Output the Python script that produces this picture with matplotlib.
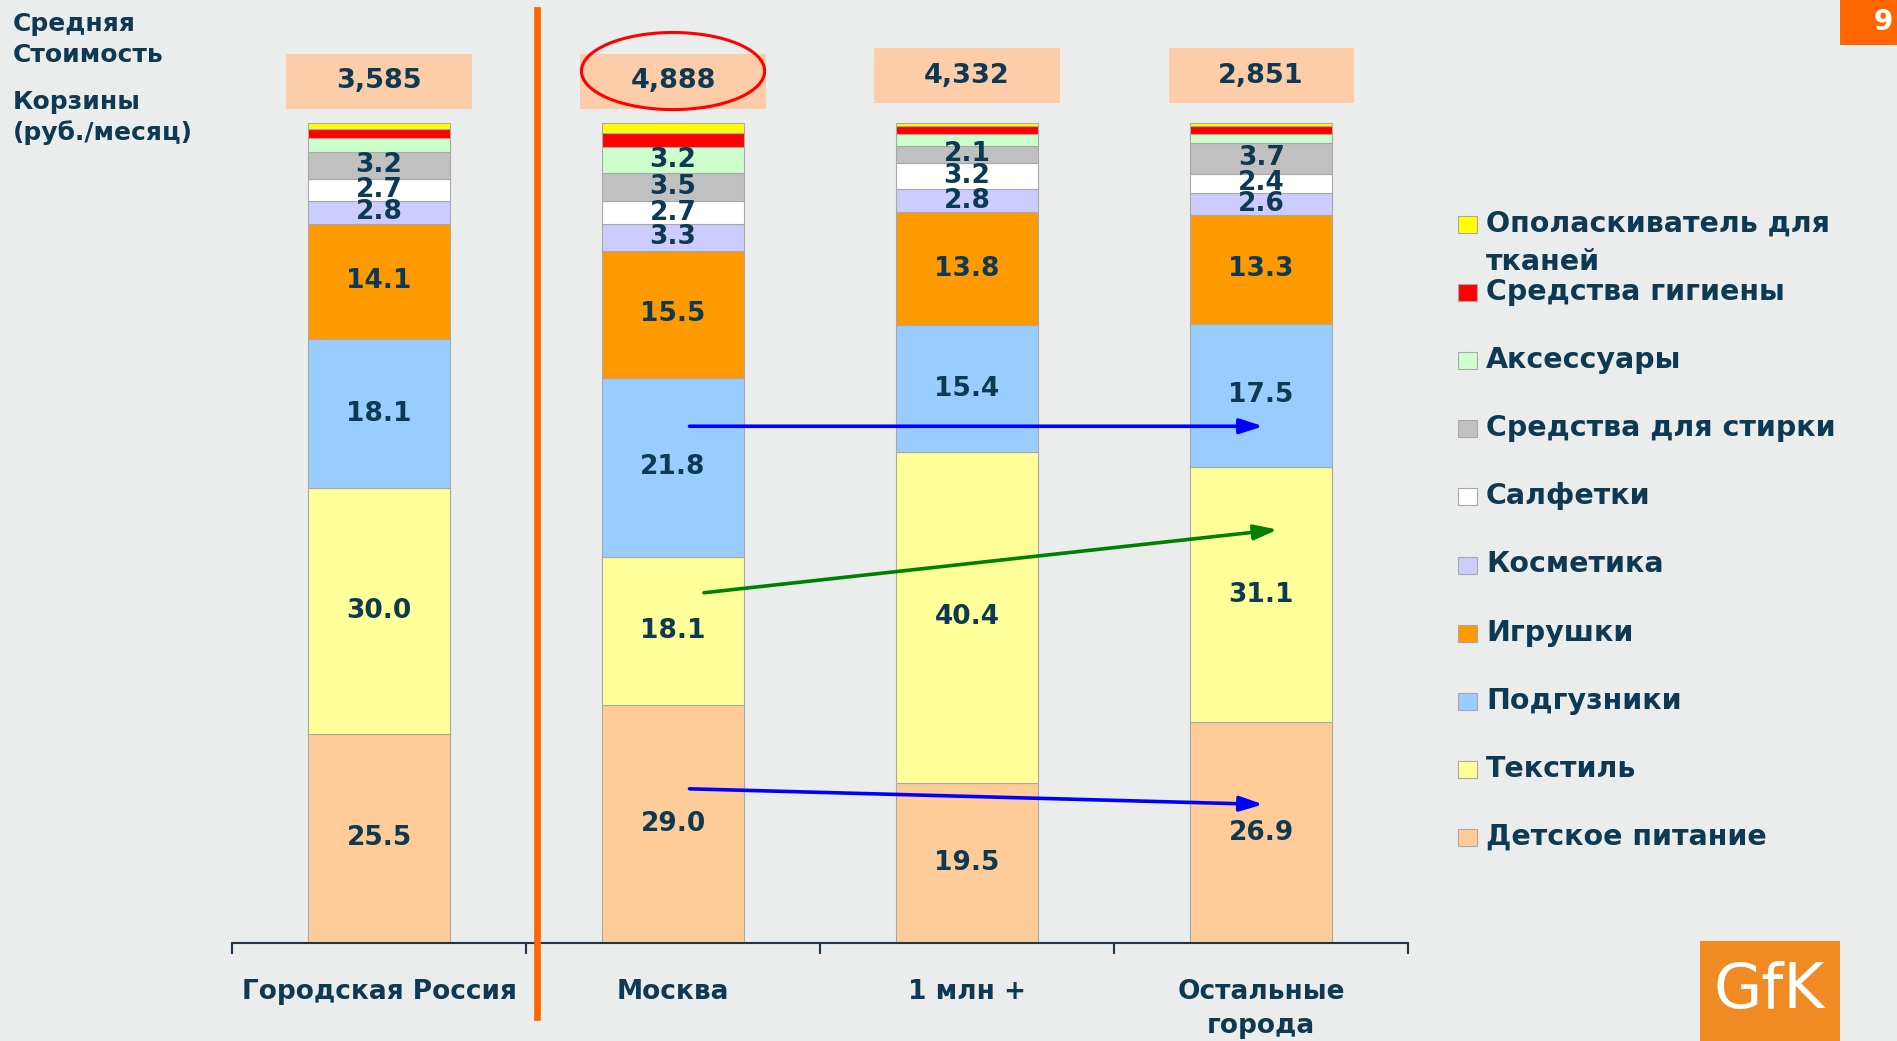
import matplotlib
matplotlib.use("Agg")
import matplotlib.pyplot as plt
from matplotlib.patches import Rectangle, Ellipse
from matplotlib.lines import Line2D

# --- data ---
categories = ['Городская Россия', 'Москва', '1 млн +', 'Остальные\nгорода']
avg_cost = ['3,585', '4,888', '4,332', '2,851']

series_names = ['Детское питание', 'Текстиль', 'Подгузники', 'Игрушки', 'Косметика',
                'Салфетки', 'Средства для стирки', 'Аксессуары', 'Средства гигиены',
                'Ополаскиватель для\nтканей']
baby_food = [25.5, 29.0, 19.5, 26.9]
textile = [30.0, 18.1, 40.4, 31.1]
diapers = [18.1, 21.8, 15.4, 17.5]
toys = [14.1, 15.5, 13.8, 13.3]
cosmetics = [2.8, 3.3, 2.8, 2.6]
napkins = [2.7, 2.7, 3.2, 2.4]
laundry = [3.2, 3.5, 2.1, 3.7]
accessories = [1.7, 3.2, 1.4, 1.1]
hygiene = [1.1, 1.6, 1.0, 1.0]
conditioner = [0.8, 1.3, 0.4, 0.4]
series = [baby_food, textile, diapers, toys, cosmetics, napkins, laundry,
          accessories, hygiene, conditioner]
colors = ['#FFCC99', '#FFFF99', '#99CCFF', '#FF9900', '#CCCCFF',
          '#FFFFFF', '#C0C0C0', '#CCFFCC', '#FF0000', '#FFFF00']

BG = '#EBECEC'
NAVY = '#0D3A52'
FONT = 'DejaVu Sans'

fig = plt.figure(figsize=(18.97, 10.41), dpi=100)
fig.patch.set_facecolor(BG)
ax = fig.add_axes([0.1223, 0.0941, 0.620, 0.788])
ax.set_facecolor(BG)

x = list(range(len(categories)))
bottom = [0.0] * len(categories)
for vals, col in zip(series, colors):
    ax.bar(x, vals, width=0.483, bottom=bottom, color=col,
           edgecolor='#A8A8A8', linewidth=0.8, zorder=2)
    for i, v in enumerate(vals):
        if v >= 2.0:
            ax.text(i, bottom[i] + v / 2, f'{v:.1f}', ha='center', va='center',
                    fontsize=19, fontweight='bold', color=NAVY, family=FONT, zorder=3)
    bottom = [b + v for b, v in zip(bottom, vals)]

ax.set_xlim(-0.5, 3.5)
ax.set_ylim(0, 100)
for s in ['top', 'right', 'left']:
    ax.spines[s].set_visible(False)
ax.spines['bottom'].set_color('#1F3548')
ax.spines['bottom'].set_linewidth(1.5)
ax.set_yticks([])
ax.set_xticks(x)
ax.set_xticklabels(categories, fontsize=19, fontweight='bold', color=NAVY, family=FONT,
                   linespacing=1.4)
ax.tick_params(axis='x', which='major', length=0, pad=26)
ax.set_xticks([-0.5, 0.5, 1.5, 2.5, 3.5], minor=True)
ax.tick_params(axis='x', which='minor', length=8, width=1.5, color='#1F3548', direction='out')

# average cost boxes
box_y = [101.7, 101.7, 102.4, 102.4]
for i, label in enumerate(avg_cost):
    ax.add_patch(Rectangle((i - 0.315, box_y[i]), 0.63, 6.7, facecolor='#FDCCA8',
                           edgecolor='none', clip_on=False, zorder=2))
    ax.text(i, box_y[i] + 3.35, label, ha='center', va='center', fontsize=19.5,
            fontweight='bold', color=NAVY, family=FONT, clip_on=False, zorder=3)
ax.add_patch(Ellipse((1.0, 106.3), 0.623, 9.4, facecolor='none', edgecolor='#FF0000',
                     linewidth=2.2, clip_on=False, zorder=4))

# arrows
arrow_kw = dict(arrowstyle='-|>,head_length=1.4,head_width=0.45', lw=2.6, shrinkA=0, shrinkB=0)
ax.annotate('', xy=(3.007, 63.0), xytext=(1.056, 63.0),
            arrowprops=dict(color='#0000FF', **arrow_kw), zorder=5)
ax.annotate('', xy=(3.056, 50.4), xytext=(1.105, 42.7),
            arrowprops=dict(color='#008000', **arrow_kw), zorder=5)
ax.annotate('', xy=(3.007, 16.9), xytext=(1.056, 18.8),
            arrowprops=dict(color='#0000FF', **arrow_kw), zorder=5)

# orange separator line
fig.add_artist(Line2D([0.2829, 0.2829], [0.0234, 0.9907], color='#FF6600', lw=4.8))

# left title
fig.text(0.0069, 0.988, 'Средняя\nСтоимость', ha='left', va='top', fontsize=18,
         fontweight='bold', color=NAVY, family=FONT, linespacing=1.35)
fig.text(0.0069, 0.914, 'Корзины\n(руб./месяц)', ha='left', va='top', fontsize=18,
         fontweight='bold', color=NAVY, family=FONT, linespacing=1.35)

# legend (top to bottom)
W, H = 1897.0, 1041.0
for k, idx in enumerate(range(len(series) - 1, -1, -1)):
    yc = 224 + 68.1 * k
    fig.add_artist(Rectangle((1458 / W, 1 - (yc + 9) / H), 19 / W, 17 / H,
                             facecolor=colors[idx], edgecolor='#A8A8A8', lw=0.8,
                             transform=fig.transFigure))
    fig.text(1486 / W, 1 - (yc - 14) / H, series_names[idx], ha='left', va='top',
             fontsize=20.5, fontweight='bold', color=NAVY, family=FONT, linespacing=1.45)

# page number and logo
fig.add_artist(Rectangle((1840 / W, 1 - 45 / H), 57 / W, 45 / H, facecolor='#FF6600',
                         edgecolor='none', transform=fig.transFigure))
fig.text(1893 / W, 1 - 22 / H, '9', ha='right', va='center', fontsize=20,
         fontweight='bold', color='white', family=FONT)
fig.add_artist(Rectangle((1700 / W, 0), 140 / W, 100 / H, facecolor='#EF8B22',
                         edgecolor='none', transform=fig.transFigure))
fig.text(1769 / W, 1 - 991 / H, 'GfK', ha='center', va='center', fontsize=45,
         color='white', family=FONT)

fig.savefig('out.png', dpi=100, facecolor=BG)
